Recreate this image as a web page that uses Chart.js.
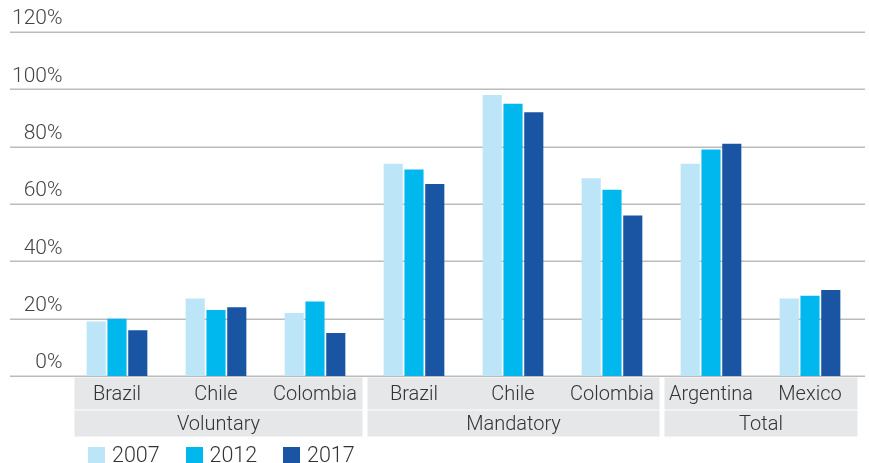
<!DOCTYPE html>
<html>
<head>
<meta charset="utf-8">
<script src="https://cdn.jsdelivr.net/npm/chart.js@4"></script>
<style>
  body { margin: 0; background: #fff; font-family: Roboto, "Liberation Sans", sans-serif; }
  #wrap { position: relative; width: 869px; height: 463px; }
  #legend { position: absolute; left: 88px; top: 445px; display: flex; font-size: 21.5px; font-weight: 300; color: #333; line-height: 20px; }
  #legend .item { display: flex; align-items: center; width: 97.5px; }
  #legend .sw { width: 17px; height: 17px; margin-right: 7px; }
</style>
</head>
<body>
<div id="wrap">
  <canvas id="chart" width="869" height="463"></canvas>
  <div id="legend"></div>
</div>
<script>
const categories = ['Brazil', 'Chile', 'Colombia', 'Brazil', 'Chile', 'Colombia', 'Argentina', 'Mexico'];
const groupLabels = ['Voluntary', 'Mandatory', 'Total'];
const groupSizes = [3, 3, 2];
const years = ['2007', '2012', '2017'];
const values2007 = [19, 27, 22, 74, 98, 69, 74, 27];
const values2012 = [20, 23, 26, 72, 95, 65, 79, 28];
const values2017 = [16, 24, 15, 67, 92, 56, 81, 30];
const colors = ['#bde5f8', '#00b8ee', '#1a55a3'];

const textColor = '#333';
const fontFamily = 'Roboto, "Liberation Sans", sans-serif';

// horizontal gridlines running past the plot area on both sides
const gridPlugin = {
  id: 'wideGrid',
  beforeDatasetsDraw(chart) {
    const ctx = chart.ctx;
    const y = chart.scales.y;
    ctx.save();
    ctx.strokeStyle = '#bcbcbc';
    ctx.lineWidth = 1.5;
    y.ticks.forEach(t => {
      const py = Math.round(y.getPixelForValue(t.value)) + 0.25;
      ctx.beginPath();
      ctx.moveTo(10, py);
      ctx.lineTo(865, py);
      ctx.stroke();
    });
    ctx.restore();
  }
};

// grey label boxes under the x axis
const boxPlugin = {
  id: 'groupBoxes',
  afterDraw(chart) {
    const ctx = chart.ctx;
    const x = chart.scales.x;
    const half = (x.getPixelForValue(1) - x.getPixelForValue(0)) / 2;
    const top = chart.chartArea.bottom + 1.5;
    const row1 = 32, row2 = 26;
    ctx.save();
    let start = 0;
    groupSizes.forEach((n, g) => {
      const left = x.getPixelForValue(start) - half + (g === 0 ? 7 : 3);
      const right = x.getPixelForValue(start + n - 1) + half - 2;
      ctx.fillStyle = '#e6e7e9';
      ctx.fillRect(left, top, right - left, row1);
      ctx.fillRect(left, top + row1 + 1, right - left, row2);
      ctx.fillStyle = textColor;
      ctx.textAlign = 'center';
      ctx.textBaseline = 'middle';
      ctx.font = '300 20px ' + fontFamily;
      for (let i = start; i < start + n; i++) {
        ctx.fillText(categories[i], x.getPixelForValue(i), top + row1 / 2 + 1);
      }
      ctx.fillText(groupLabels[g], (left + right) / 2, top + row1 + 1 + row2 / 2 + 1);
      start += n;
    });
    ctx.restore();
  }
};

const seriesValues = [values2007, values2012, values2017];

new Chart(document.getElementById('chart'), {
  type: 'bar',
  data: {
    labels: categories,
    datasets: years.map((yr, i) => ({
      label: yr,
      data: seriesValues[i],
      backgroundColor: colors[i],
      categoryPercentage: 0.63,
      barPercentage: 0.92
    }))
  },
  options: {
    responsive: false,
    animation: false,
    layout: { padding: { left: 0, top: 32, right: 9.5, bottom: 0 } },
    plugins: { legend: { display: false }, tooltip: { enabled: false } },
    scales: {
      x: {
        grid: { display: false },
        border: { display: false },
        ticks: { display: false },
        afterFit(scale) { scale.height = 87; }
      },
      y: {
        min: 0,
        max: 120,
        grid: { display: false, drawTicks: false },
        border: { display: false },
        ticks: {
          stepSize: 20,
          padding: 5,
          labelOffset: -13,
          color: '#444',
          font: { family: fontFamily, size: 21, weight: '300' },
          callback: v => v + '%'
        },
        afterFit(scale) { scale.width = 67.5; }
      }
    }
  },
  plugins: [gridPlugin, boxPlugin]
});

const legend = document.getElementById('legend');
years.forEach((yr, i) => {
  const item = document.createElement('div');
  item.className = 'item';
  item.innerHTML = '<span class="sw" style="background:' + colors[i] + '"></span><span>' + yr + '</span>';
  legend.appendChild(item);
});
</script>
</body>
</html>
